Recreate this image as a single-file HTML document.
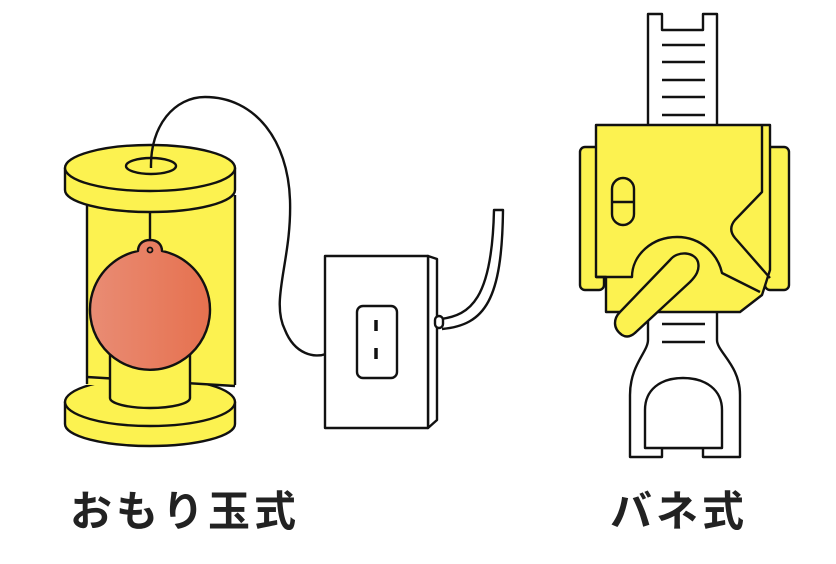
<!DOCTYPE html>
<html><head><meta charset="utf-8"><style>
html,body{margin:0;padding:0;background:#fff;}
svg{display:block;}
text{font-family:"Liberation Sans","Noto Sans CJK JP",sans-serif;font-weight:bold;}
</style></head><body>
<svg width="836" height="564" viewBox="0 0 836 564" xmlns="http://www.w3.org/2000/svg">
<defs>
<linearGradient id="ball" x1="0" x2="1"><stop offset="0" stop-color="#e98c74"/><stop offset="1" stop-color="#e6714f"/></linearGradient>
</defs>
<g stroke="#111" stroke-width="2.4" fill="#fcf250" stroke-linejoin="round">
<!-- bottom disc -->
<path d="M65 402 L65 424 A85 22 0 0 0 235 424 L235 402 Z"/>
<ellipse cx="150" cy="402" rx="85" ry="24"/>
<!-- body -->
<rect x="87" y="195" width="148" height="190" stroke="none"/>
<path d="M87 195 V384 M235 195 V385" fill="none"/>
<path d="M87 377 L235 386" fill="none"/>
<!-- pedestal -->
<path d="M110 340 V398 A40 10 0 0 0 190 398 V340" />
<!-- string -->
<path d="M150 168 V242" fill="none"/>
<!-- ball -->
<path d="M150 240 C142 240 138 245 138 251 A60 60 0 1 0 162 251 C162 245 158 240 150 240 Z" fill="url(#ball)"/>
<circle cx="150" cy="250" r="2.5" fill="none" stroke-width="1.8"/>
<!-- top disc -->
<path d="M65 168 L65 190 A85 22 0 0 0 235 190 L235 168 Z"/>
<ellipse cx="150" cy="168" rx="85" ry="23"/>
<ellipse cx="151" cy="166" rx="25" ry="8"/>
<!-- cord -->
<path d="M151 168 C150 125 175 97 205 97 C255 97 288 140 290 200 C292 260 270 300 285 330 C295 355 315 358 326 354" fill="none"/>
<!-- outlet -->
<path d="M428 256 L437 259 V420 L428 428 Z" fill="#fff"/>
<rect x="325" y="256" width="103" height="172" fill="#fff"/>
<rect x="357" y="306" width="40" height="72" rx="6" fill="#fff"/>
<path d="M376 320 V331 M376 348 V359" stroke-width="3.5"/>
<path d="M441 319 C470 315 492 300 494 210 L503 210 C502 300 485 325 442 329" fill="#fff"/>
<rect x="435" y="316" width="8" height="12" rx="4" fill="#fff"/>

<!-- spring type -->
<path d="M648 14 H662 V30 H703 V14 H717 V130 H648 Z" fill="#fff"/>
<path d="M662 45 H705 M662 62 H705 M662 80 H705 M662 97 H705 M662 115 H705" fill="none"/>
<rect x="580" y="147" width="24" height="143" rx="5"/>
<rect x="765" y="147" width="24" height="143" rx="5"/>
<path d="M648 305 V340 C648 352 630 365 630 395 V457 H662 V448 H703 V457 H740 V395 C740 365 717 352 717 340 V305 Z" fill="#fff"/>
<path d="M645 448 V410 C645 390 660 378 683 378 C706 378 722 390 722 410 V448 Z" fill="#fff"/>
<path d="M662 324 H705 M662 342 H705" fill="none"/>
<path d="M606 277 V312 H740 L762 295 L770 270 V125 H596 V277 Z"/>
<path d="M596 277 H632 C632 255 652 237 677 237 C702 237 718 255 722 273 L760 292" fill="none"/>
<path d="M762 125 V192 L735 220 C730 226 730 232 735 238 L770 278" fill="none"/>
<rect x="612" y="178" width="22" height="47" rx="11"/>
<path d="M612 202 H634" fill="none"/>
<path d="M622 335 C612 328 614 318 620 312 L670 260 C678 250 695 252 698 262 C700 270 696 276 690 282 L636 332 C632 336 627 338 622 335 Z"/>
</g>
<text x="185" y="526" font-size="42" text-anchor="middle" fill="#222" letter-spacing="4">おもり玉式</text>
<text x="679" y="526" font-size="42" text-anchor="middle" fill="#222" letter-spacing="4">バネ式</text>
</svg>
</body></html>
